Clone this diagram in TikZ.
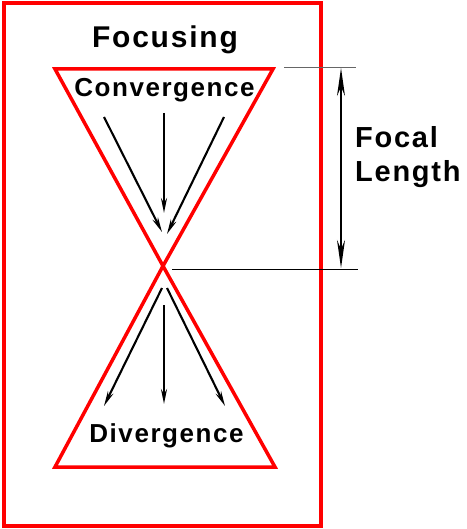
\documentclass[tikz,border=0pt]{standalone}
\usepackage{fontspec}
\setmainfont{Liberation Sans}
\newfontfamily\spaced[LetterSpace=6]{Liberation Sans}
\usetikzlibrary{arrows.meta}
\begin{document}
\begin{tikzpicture}[x=1pt,y=-1pt,
  redline/.style={draw=red,line width=3.5pt},
  ray/.style={line width=2.1pt,-{Stealth[length=15pt,width=6pt]}},
  lbl/.style={font=\spaced\bfseries\fontsize{26}{28}\selectfont,inner sep=0pt,anchor=base},
  biglbl/.style={lbl,font=\spaced\bfseries\fontsize{29}{34}\selectfont,anchor=base west},
  dimline/.style={line width=0.8pt}]
\useasboundingbox (0,0) rectangle (466,529);
\draw[redline] (4,3) rectangle (321,526);
% triangles
\coordinate (apex) at (163,266);
\coordinate (tl) at (55,69);
\coordinate (tr) at (273,69);
\coordinate (bl) at (55,467);
\coordinate (br) at (275,467);
\draw[redline,line join=miter] (tl) -- (tr) -- (apex) -- cycle;
\draw[redline,line join=miter] (bl) -- (br) -- (apex) -- cycle;
% labels
\node[lbl,font=\spaced\bfseries\fontsize{30}{34}\selectfont] (focusing) at (165,48) {Focusing};
\node[lbl] (conv) at (164.5,97) {Convergence};
\node[lbl] (div) at (166.5,442) {Divergence};
\node[biglbl] (focal) at (355,148) {Focal};
\node[biglbl] (length) at (355,182) {Length};
% converging rays
\coordinate (c1s) at (104,117); \coordinate (c1e) at (162,232);
\coordinate (c2s) at (164,113); \coordinate (c2e) at (164,213);
\coordinate (c3s) at (224,117); \coordinate (c3e) at (167,234);
\draw[ray] (c1s) -- (c1e);
\draw[ray] (c2s) -- (c2e);
\draw[ray] (c3s) -- (c3e);
% diverging rays
\coordinate (d1s) at (162,288); \coordinate (d1e) at (104,406);
\coordinate (d2s) at (164,305); \coordinate (d2e) at (164,404);
\coordinate (d3s) at (167,288); \coordinate (d3e) at (225,406);
\draw[ray] (d1s) -- (d1e);
\draw[ray] (d2s) -- (d2e);
\draw[ray] (d3s) -- (d3e);
% focal length dimension
\coordinate (t1) at (284,67); \coordinate (t2) at (356,67);
\coordinate (b1) at (172,269); \coordinate (b2) at (358,269);
\draw[dimline,draw=black!60] (t1) -- (t2);
\draw[dimline] (b1) -- (b2);
\coordinate (at) at (341,68); \coordinate (ab) at (341,268);
\draw[line width=1.5pt,{Stealth[length=28pt,width=8pt]}-{Stealth[length=28pt,width=8pt]}] (at) -- (ab);
\end{tikzpicture}
\end{document}
